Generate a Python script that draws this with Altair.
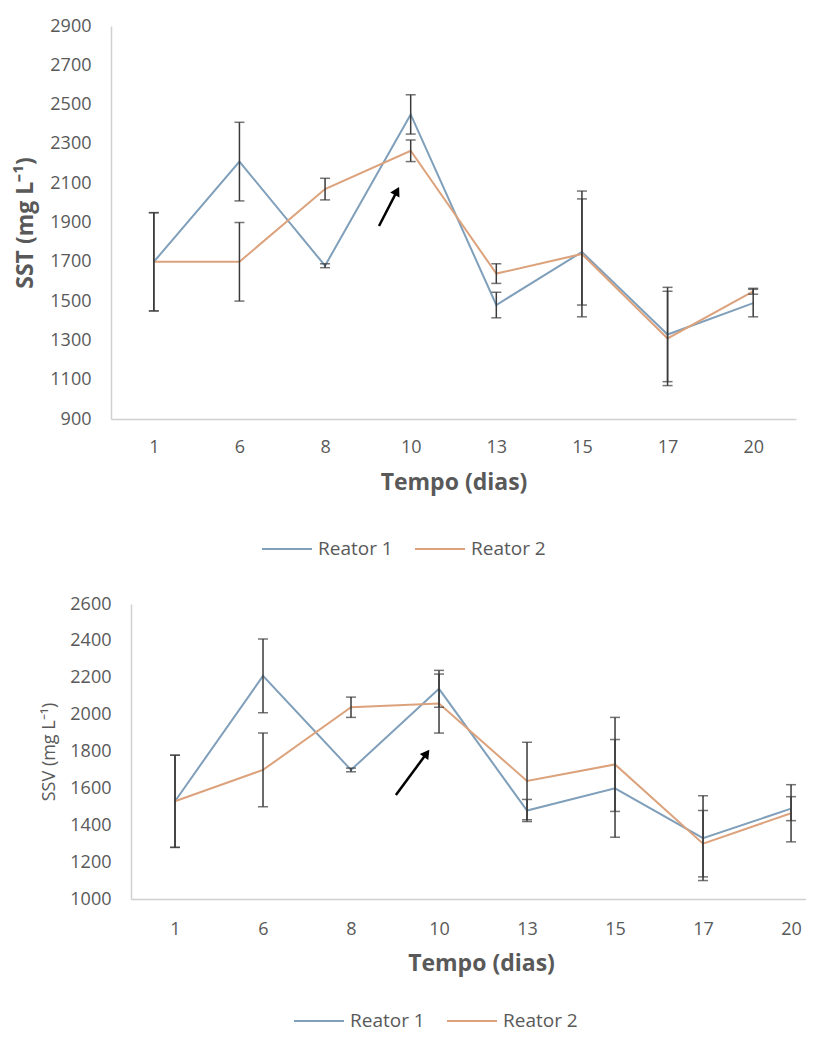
import altair as alt
import pandas as pd

days = [1, 6, 8, 10, 13, 15, 17, 20]
series = ["Reator 1", "Reator 2"]

sst_r1 = [1700, 2210, 1680, 2450, 1480, 1750, 1330, 1490]
sst_r1_err = [250, 200, 10, 100, 65, 270, 240, 70]
sst_r2 = [1700, 1700, 2070, 2265, 1640, 1740, 1310, 1550]
sst_r2_err = [250, 200, 55, 55, 50, 320, 240, 15]

ssv_r1 = [1530, 2210, 1700, 2140, 1480, 1600, 1330, 1490]
ssv_r1_err = [250, 200, 10, 100, 60, 265, 230, 65]
ssv_r2 = [1530, 1700, 2040, 2060, 1640, 1730, 1300, 1465]
ssv_r2_err = [250, 200, 55, 160, 210, 255, 180, 155]

# arrow annotations (x in category index units, y in data units)
sst_arrow_x = [2.63, 2.84]
sst_arrow_y = [1882, 2060]
ssv_arrow_x = [2.51, 2.86]
ssv_arrow_y = [1564, 1790]

BLUE = "#7f9fba"
ORANGE = "#dca27c"
GREY = "#595959"
FONT = "Open Sans"


def long_df(v1, e1, v2, e2):
    rows = []
    for s, vals, errs in [(series[0], v1, e1), (series[1], v2, e2)]:
        for i, (d, v, e) in enumerate(zip(days, vals, errs)):
            rows.append({"idx": i, "day": d, "serie": s, "value": v,
                         "lo": v - e, "hi": v + e})
    return pd.DataFrame(rows)


label_expr = "'' + [" + ",".join(str(d) for d in days) + "][datum.value]"


def panel(df, ax, ay, ytitle, ydomain, width, height, xmax, ytitle_size,
          ytitle_bold, ytitle_pad, xlab_pad, xtitle_pad, legx, legy,
          head_angle, xtitle_x=None):
    xs = alt.Scale(domain=[-0.5, xmax], nice=False, zero=False)
    ys = alt.Scale(domain=ydomain, nice=False, zero=False)
    xkw = {} if xtitle_x is None else {"titleX": xtitle_x}
    xaxis = alt.Axis(values=list(range(len(days))), labelExpr=label_expr,
                     labelOverlap=False,
                     grid=False, ticks=False, domainColor="#d0d0d0",
                     domainWidth=1.5, labelFontSize=18, labelColor=GREY,
                     labelFont=FONT, labelPadding=xlab_pad,
                     title="Tempo (dias)", titleFontSize=23,
                     titleFont=FONT, titleColor=GREY, titleFontWeight="bold",
                     titlePadding=xtitle_pad, **xkw)
    yaxis = alt.Axis(values=list(range(ydomain[0], ydomain[1] + 1, 200)),
                     format="d", labelOverlap=False,
                     grid=False, ticks=False, domainColor="#d0d0d0",
                     domainWidth=1.5, labelFontSize=18, labelColor=GREY,
                     labelFont=FONT, labelPadding=20, title=ytitle,
                     titleFontSize=ytitle_size, titleFont=FONT,
                     titleColor=GREY,
                     titleFontWeight="bold" if ytitle_bold else "normal",
                     titlePadding=ytitle_pad)

    def X(f):
        return alt.X(f, scale=xs, axis=xaxis)

    def Y(f):
        return alt.Y(f, scale=ys, axis=yaxis)

    base = alt.Chart(df)
    lines = base.mark_line(strokeWidth=2).encode(
        x=X("idx:Q"),
        y=Y("value:Q"),
        color=alt.Color("serie:N",
                        scale=alt.Scale(domain=series, range=[BLUE, ORANGE]),
                        legend=alt.Legend(orient="none", legendX=legx,
                                          legendY=legy, direction="horizontal",
                                          title=None, symbolType="stroke",
                                          symbolSize=2500,
                                          symbolStrokeWidth=2,
                                          labelFontSize=19, labelColor=GREY,
                                          labelFont=FONT, columnPadding=18,
                                          labelOffset=5)),
        detail="serie:N",
    )
    rules = base.mark_rule(color="#3a3a3a", strokeWidth=1.5).encode(
        x=X("idx:Q"), y=Y("lo:Q"), y2="hi:Q")
    cap_lo = base.mark_tick(orient="horizontal", size=10, thickness=1.5,
                            color="#3a3a3a").encode(x=X("idx:Q"), y=Y("lo:Q"))
    cap_hi = base.mark_tick(orient="horizontal", size=10, thickness=1.5,
                            color="#3a3a3a").encode(x=X("idx:Q"), y=Y("hi:Q"))
    arrow_df = pd.DataFrame({"x": ax, "y": ay, "o": [0, 1]})
    arrow = alt.Chart(arrow_df).mark_line(color="black", strokeWidth=2.5).encode(
        x=X("x:Q"), y=Y("y:Q"), order="o:Q")
    head = alt.Chart(arrow_df.iloc[[1]]).mark_point(
        shape="triangle-up", filled=True, color="black", opacity=1,
        size=110, angle=head_angle).encode(x=X("x:Q"), y=Y("y:Q"))
    return alt.layer(lines, rules, cap_lo, cap_hi, arrow, head).properties(
        width=width, height=height)


def spacer(w):
    return alt.Chart(pd.DataFrame({"v": [0]})).mark_point(opacity=0).encode(
        x=alt.value(0), y=alt.value(0)).properties(width=w, height=10)


top = panel(long_df(sst_r1, sst_r1_err, sst_r2, sst_r2_err),
            sst_arrow_x, sst_arrow_y, "SST (mg L\u207b\u00b9)", [900, 2900],
            685, 393, 7.5, 23, True, 12, 19, 15, 150, 497, 28)

bottom = panel(long_df(ssv_r1, ssv_r1_err, ssv_r2, ssv_r2_err),
               ssv_arrow_x, ssv_arrow_y, "SSV (mg L\u207b\u00b9)", [1000, 2600],
               675, 295, 7.17, 18, False, 11, 21, 14, 162, 391, 36,
               xtitle_x=350)

row1 = alt.hconcat(spacer(1), top, spacing=0).resolve_scale(color="independent")
row2 = alt.hconcat(spacer(29), bottom, spacing=0).resolve_scale(color="independent")

chart = alt.vconcat(row1, row2, spacing=36).resolve_scale(
    color="independent"
).properties(
    padding={"left": 0, "top": 9, "right": 0, "bottom": 3}
).configure(
    background="white", view=alt.ViewConfig(stroke=None)
)

chart.save("out.html", embed_options={"renderer": "svg", "actions": False})
